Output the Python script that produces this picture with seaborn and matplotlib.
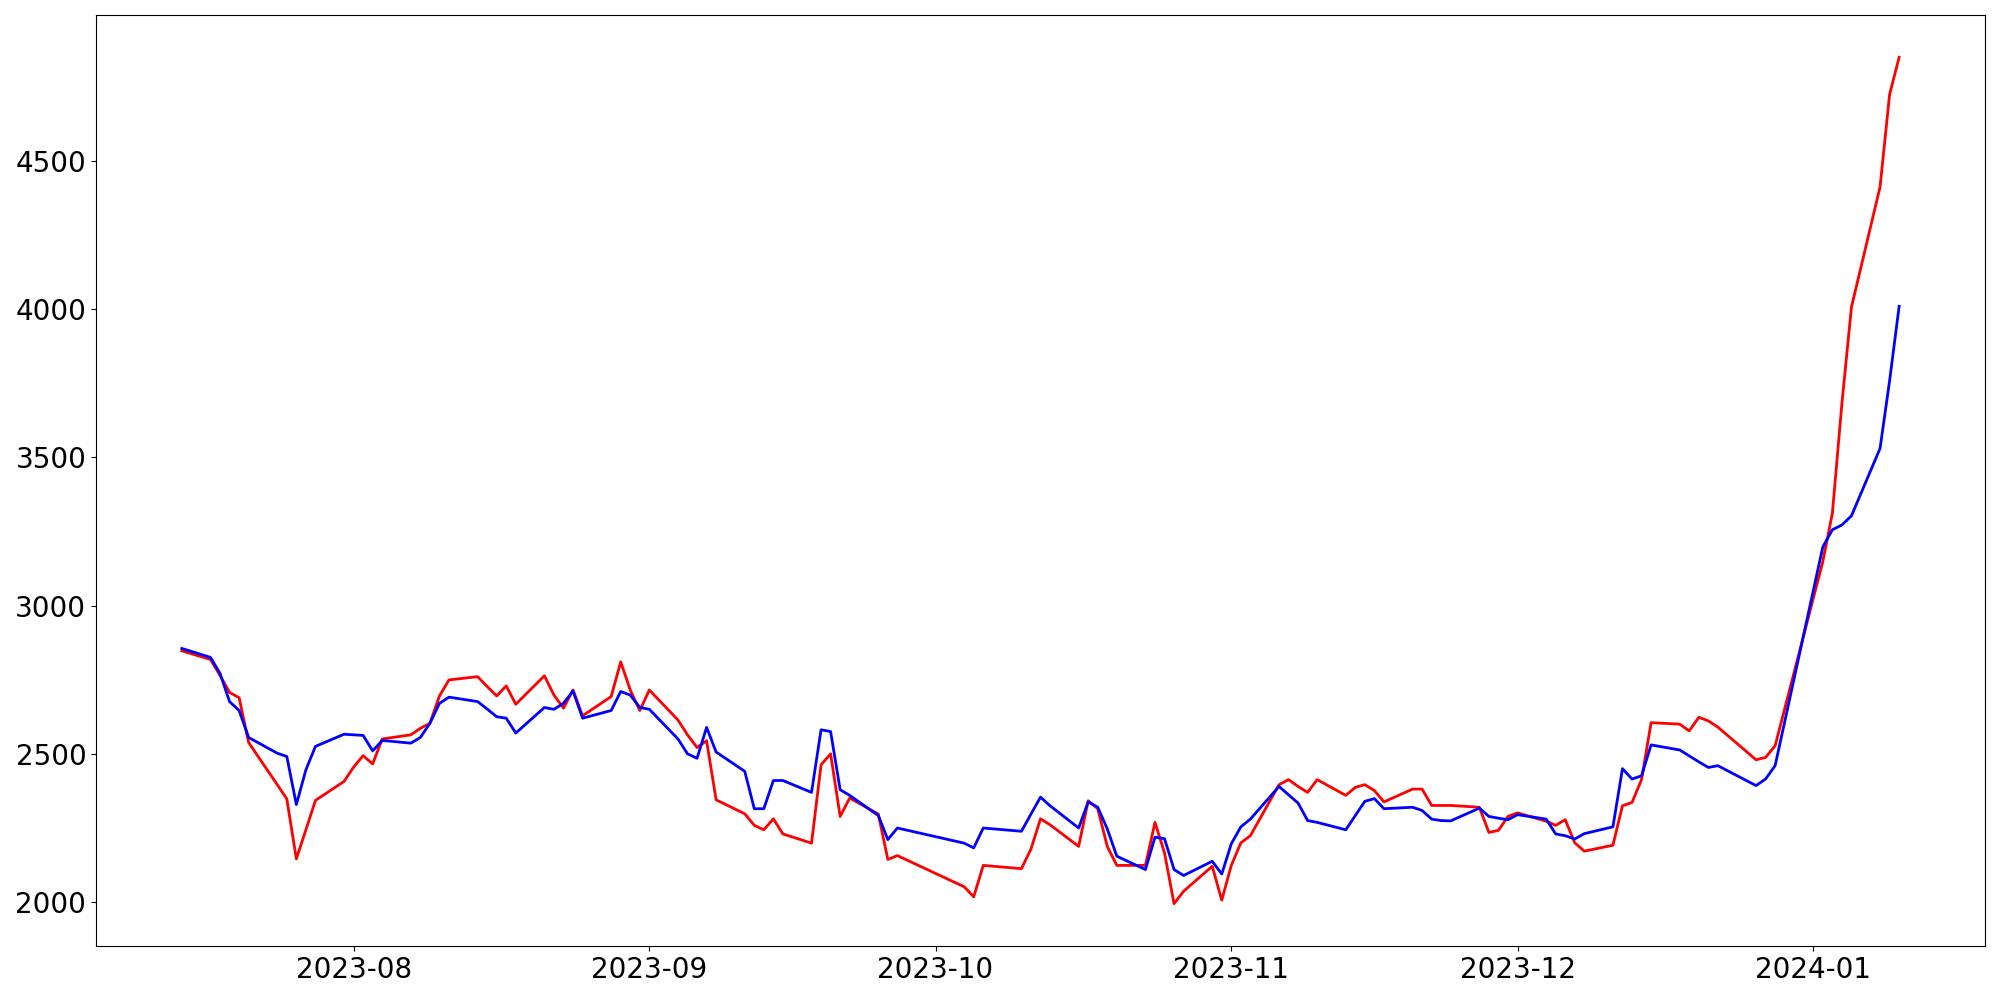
import numpy as np
import pandas as pd
import matplotlib
matplotlib.use("Agg")
import matplotlib.pyplot as plt
import matplotlib.dates as mdates
import seaborn as sns

# ============================================================
# DATA
# ============================================================
DATES = [
    "2023-07-14", "2023-07-17", "2023-07-18", "2023-07-19", "2023-07-20", "2023-07-21",
    "2023-07-24", "2023-07-25", "2023-07-26", "2023-07-27", "2023-07-28", "2023-07-31",
    "2023-08-01", "2023-08-02", "2023-08-03", "2023-08-04", "2023-08-07", "2023-08-08",
    "2023-08-09", "2023-08-10", "2023-08-11", "2023-08-14", "2023-08-15", "2023-08-16",
    "2023-08-17", "2023-08-18", "2023-08-21", "2023-08-22", "2023-08-23", "2023-08-24",
    "2023-08-25", "2023-08-28", "2023-08-29", "2023-08-30", "2023-08-31", "2023-09-01",
    "2023-09-04", "2023-09-05", "2023-09-06", "2023-09-07", "2023-09-08", "2023-09-11",
    "2023-09-12", "2023-09-13", "2023-09-14", "2023-09-15", "2023-09-18", "2023-09-19",
    "2023-09-20", "2023-09-21", "2023-09-22", "2023-09-25", "2023-09-26", "2023-09-27",
    "2023-10-04", "2023-10-05", "2023-10-06", "2023-10-10", "2023-10-11", "2023-10-12",
    "2023-10-13", "2023-10-16", "2023-10-17", "2023-10-18", "2023-10-19", "2023-10-20",
    "2023-10-23", "2023-10-24", "2023-10-25", "2023-10-26", "2023-10-27", "2023-10-30",
    "2023-10-31", "2023-11-01", "2023-11-02", "2023-11-03", "2023-11-06", "2023-11-07",
    "2023-11-08", "2023-11-09", "2023-11-10", "2023-11-13", "2023-11-14", "2023-11-15",
    "2023-11-16", "2023-11-17", "2023-11-20", "2023-11-21", "2023-11-22", "2023-11-23",
    "2023-11-24", "2023-11-27", "2023-11-28", "2023-11-29", "2023-11-30", "2023-12-01",
    "2023-12-04", "2023-12-05", "2023-12-06", "2023-12-07", "2023-12-08", "2023-12-11",
    "2023-12-12", "2023-12-13", "2023-12-14", "2023-12-15", "2023-12-18", "2023-12-19",
    "2023-12-20", "2023-12-21", "2023-12-22", "2023-12-26", "2023-12-27", "2023-12-28",
    "2024-01-02", "2024-01-03", "2024-01-04", "2024-01-05", "2024-01-08", "2024-01-09",
    "2024-01-10",
]

RED_VALUES = [
    2848, 2819, 2765, 2708, 2690, 2539,
    2397, 2349, 2147, 2245, 2344, 2408,
    2456, 2495, 2467, 2551, 2565, 2587,
    2604, 2696, 2750, 2761, 2728, 2696,
    2730, 2668, 2764, 2699, 2655, 2716,
    2629, 2694, 2811, 2716, 2647, 2716,
    2615, 2565, 2522, 2545, 2346, 2299,
    2260, 2245, 2282, 2231, 2200, 2464,
    2501, 2290, 2352, 2298, 2145, 2158,
    2053, 2019, 2125, 2114, 2180, 2282,
    2262, 2189, 2343, 2316, 2189, 2125,
    2125, 2270, 2167, 1996, 2038, 2122,
    2008, 2125, 2201, 2225, 2397, 2414,
    2391, 2371, 2414, 2361, 2388, 2397,
    2377, 2339, 2382, 2382, 2327, 2327,
    2327, 2321, 2236, 2243, 2290, 2302,
    2274, 2260, 2279, 2201, 2173, 2193,
    2326, 2337, 2414, 2606, 2601, 2578,
    2624, 2612, 2591, 2481, 2489, 2528,
    3149, 3311, 3681, 4006, 4411, 4723,
    4848,
]

BLUE_VALUES = [
    2856, 2826, 2772, 2677, 2647, 2556,
    2503, 2492, 2330, 2447, 2526, 2567,
    2565, 2563, 2511, 2546, 2537, 2556,
    2604, 2671, 2692, 2677, 2652, 2626,
    2621, 2571, 2657, 2651, 2671, 2713,
    2621, 2647, 2711, 2699, 2657, 2651,
    2551, 2501, 2486, 2590, 2507, 2442,
    2316, 2316, 2411, 2411, 2371, 2582,
    2576, 2380, 2361, 2293, 2212, 2251,
    2200, 2184, 2251, 2240, 2298, 2355,
    2326, 2251, 2339, 2321, 2248, 2156,
    2111, 2220, 2215, 2111, 2091, 2139,
    2096, 2198, 2255, 2281, 2391, 2363,
    2335, 2276, 2270, 2245, 2293, 2341,
    2350, 2316, 2321, 2310, 2281, 2276,
    2275, 2318, 2290, 2284, 2279, 2296,
    2281, 2231, 2225, 2214, 2232, 2255,
    2451, 2416, 2427, 2531, 2514, 2494,
    2474, 2455, 2461, 2394, 2416, 2461,
    3198, 3256, 3272, 3303, 3530, 3758,
    4009,
]

df = pd.DataFrame({
    "date": pd.to_datetime(DATES),
    "red": RED_VALUES,
    "blue": BLUE_VALUES,
})

fig, ax = plt.subplots(figsize=(20, 10), dpi=100)

sns.lineplot(data=df, x="date", y="red", color="red", linewidth=2, estimator=None, ax=ax)
sns.lineplot(data=df, x="date", y="blue", color="blue", linewidth=2, estimator=None, ax=ax)

ax.xaxis.set_major_locator(mdates.MonthLocator())
ax.xaxis.set_major_formatter(mdates.DateFormatter("%Y-%m"))
ax.tick_params(axis="both", labelsize=20)
ax.set_xlabel("")
ax.set_ylabel("")

plt.subplots_adjust(left=0.048, right=0.9925, top=0.985, bottom=0.054)
plt.savefig("out.png", dpi=100)
plt.close()
